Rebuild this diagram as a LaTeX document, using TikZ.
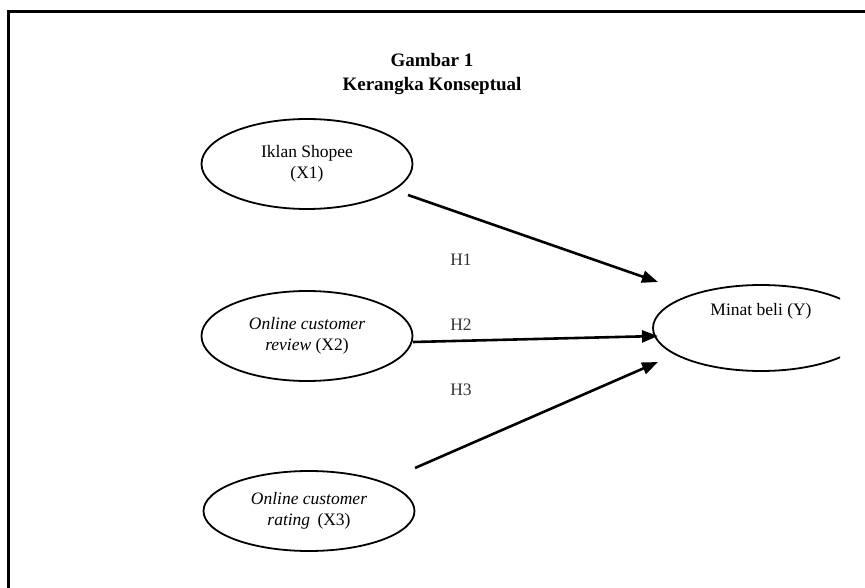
\documentclass[tikz,border=0pt]{standalone}
\usepackage{fontspec}
\setmainfont{Liberation Serif}
\usetikzlibrary{shapes.geometric,arrows.meta}
\tikzset{
  var/.style={ellipse, draw, line width=1.8pt, minimum width=211pt, minimum height=90pt, align=center, font=\fontsize{17.5}{21}\selectfont, inner sep=0pt},
  hyp/.style={line width=2.6pt, -{Triangle[length=16pt,width=12pt]}},
  hlabel/.style={font=\fontsize{17.5}{20}\selectfont, text=black!80},
  frame/.style={line width=3pt}
}
\begin{document}
\begin{tikzpicture}[x=1pt,y=-1pt]
\useasboundingbox (0,0) rectangle (865,588);
% frame (top and left edges visible)
\draw[frame] (8,600) -- (8,12) -- (880,12);
% title
\node[font=\bfseries\fontsize{19}{24}\selectfont, align=center] (title) at (432,74) {Gambar 1\\Kerangka Konseptual};
% variables
\node[var] (x1) at (307,164) {Iklan Shopee\\(X1)};
\node[var] (x2) at (307,336) {\textit{Online customer}\\\textit{review} (X2)};
\node[var, minimum height=80pt] (x3) at (309,511) {\textit{Online customer}\\\textit{rating}\, (X3)};
\node[ellipse, minimum width=216pt, minimum height=86pt, inner sep=0pt] (y) at (761,328) {};
\begin{scope}
  \clip (0,0) rectangle (840,588);
  \draw[line width=1.8pt] (y.center) ellipse [x radius=108pt, y radius=43pt];
\end{scope}
\node[font=\fontsize{17.5}{21}\selectfont] (ylab) at (761,311) {Minat beli (Y)};
% connector end points
\coordinate (h1s) at (408,195);
\coordinate (h1e) at (658,282);
\coordinate (h2s) at (413,342);
\coordinate (h2e) at (658,336);
\coordinate (h3s) at (415,468);
\coordinate (h3e) at (658,362);
\draw[hyp] (h1s) -- (h1e);
\draw[hyp] (h2s) -- (h2e);
\draw[hyp] (h3s) -- (h3e);
% hypothesis labels
\node[hlabel] (l1) at (461,260) {H1};
\node[hlabel] (l2) at (461,325) {H2};
\node[hlabel] (l3) at (461,390) {H3};
\end{tikzpicture}
\end{document}
